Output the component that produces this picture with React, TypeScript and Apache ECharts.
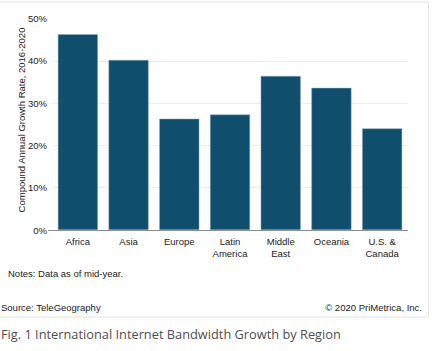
import React, { useEffect, useRef } from "react";
import * as echarts from "echarts";

const categories = ["Africa", "Asia", "Europe", "Latin\nAmerica", "Middle\nEast", "Oceania", "U.S. &\nCanada"];
const growthValues = [46.3, 40.2, 26.3, 27.3, 36.4, 33.6, 24.0];
const yTicks = [0, 10, 20, 30, 40, 50];
const yTitle = "Compound Annual Growth Rate, 2016-2020";

const FONT = "'Liberation Sans', Arial, Helvetica, sans-serif";

export default function App() {
  const ref = useRef<HTMLDivElement>(null);
  useEffect(() => {
    if (!ref.current) return;
    const chart = echarts.init(ref.current, null, { renderer: "svg" });
    chart.setOption({
      animation: false,
      backgroundColor: "#ffffff",
      textStyle: { fontFamily: FONT },
      grid: { left: 52.5, right: 26.5, top: 18.5, bottom: 121, containLabel: false },
      xAxis: {
        type: "category",
        data: categories,
        axisTick: { show: false },
        axisLine: { show: true, lineStyle: { color: "#8a8a8a", width: 1 } },
        axisLabel: {
          color: "#222",
          fontSize: 9.5,
          fontFamily: FONT,
          lineHeight: 11.5,
          margin: 6,
          interval: 0,
        },
      },
      yAxis: {
        type: "value",
        min: yTicks[0],
        max: yTicks[yTicks.length - 1],
        interval: 10,
        axisLine: { show: false },
        axisTick: { show: false },
        axisLabel: {
          color: "#222",
          fontSize: 9.5,
          fontFamily: FONT,
          margin: 5.5,
          formatter: (v: number) => v + "%",
        },
        splitLine: {
          show: true,
          lineStyle: {
            color: ["#ededed", "#ededed", "#ededed", "#ededed", "#ededed", "rgba(0,0,0,0)"],
            width: 1,
          },
        },
      },
      series: [
        {
          type: "bar",
          data: growthValues,
          barWidth: 40,
          itemStyle: { color: "#0f4e6d", borderColor: "#8fa9bb", borderWidth: 0.5 },
        },
      ],
      graphic: [
        {
          type: "rect",
          shape: { x: -1, y: 2, width: 429.5, height: 315 },
          style: { fill: "none", stroke: "#e4e4e4", lineWidth: 1 },
          silent: true,
          z: -1,
        },
        {
          type: "line",
          shape: { x1: 48, y1: 230.5, x2: 53, y2: 230.5 },
          style: { stroke: "#8a8a8a", lineWidth: 1 },
          silent: true,
        },
        {
          type: "text",
          x: 21.5,
          y: 120,
          rotation: Math.PI / 2,
          style: {
            text: yTitle,
            fill: "#222",
            font: `9.5px ${FONT}`,
            textAlign: "center",
            textVerticalAlign: "middle",
          },
        },
        {
          type: "text",
          x: 8,
          y: 273,
          style: {
            text: "Notes: Data as of mid-year.",
            fill: "#222",
            font: `9.5px ${FONT}`,
            textVerticalAlign: "middle",
          },
        },
        {
          type: "text",
          x: 1,
          y: 307,
          style: {
            text: "Source: TeleGeography",
            fill: "#222",
            font: `9.5px ${FONT}`,
            textVerticalAlign: "middle",
          },
        },
        {
          type: "text",
          x: 422,
          y: 307,
          style: {
            text: "© 2020 PriMetrica, Inc.",
            fill: "#222",
            font: `9.5px ${FONT}`,
            textAlign: "right",
            textVerticalAlign: "middle",
          },
        },
        {
          type: "text",
          x: 1,
          y: 334,
          style: {
            text: "Fig. 1 International Internet Bandwidth Growth by Region",
            fill: "#4f4f4f",
            font: `12.8px 'Open Sans', 'Noto Sans', sans-serif`,
            textVerticalAlign: "middle",
          },
        },
      ],
    });
    return () => chart.dispose();
  }, []);
  return (
    <div
      ref={ref}
      style={{ position: "fixed", left: 0, top: 0, width: 434, height: 351 }}
    />
  );
}
